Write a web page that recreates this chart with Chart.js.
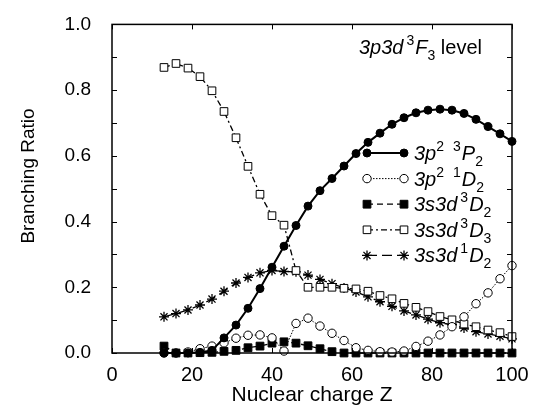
<!DOCTYPE html>
<html>
<head>
<meta charset="utf-8">
<title>Branching ratio 3p3d 3F3</title>
<script src="https://cdn.jsdelivr.net/npm/chart.js@4.4.0/dist/chart.umd.min.js"></script>
<style>
  html, body { margin: 0; padding: 0; background: #fff; }
</style>
</head>
<body>
<canvas id="chart" width="540" height="411"></canvas>
<script>
// nuclear charge Z of each computed point
const zValues = [13, 16, 19, 22, 25, 28, 31, 34, 37, 40, 43, 46, 49, 52, 55, 58, 61, 64, 67, 70, 73, 76, 79, 82, 85, 88, 91, 94, 97, 100];

// branching ratios
const p2_3P2 = [0.0, 0.0, 0.0, 0.002, 0.008, 0.046, 0.085, 0.136, 0.196, 0.261, 0.325, 0.388, 0.447, 0.494, 0.531, 0.569, 0.607, 0.641, 0.669, 0.696, 0.716, 0.731, 0.739, 0.742, 0.739, 0.729, 0.711, 0.689, 0.667, 0.644];
const p2_1D2 = [0.0, 0.0, 0.003, 0.013, 0.021, 0.031, 0.045, 0.054, 0.055, 0.046, 0.006, 0.090, 0.106, 0.082, 0.060, 0.038, 0.016, 0.008, 0.004, 0.003, 0.006, 0.020, 0.036, 0.055, 0.080, 0.110, 0.150, 0.183, 0.226, 0.266];
const sd_3D2 = [0.021, 0.0, 0.0, 0.001, 0.002, 0.005, 0.008, 0.016, 0.021, 0.030, 0.034, 0.030, 0.022, 0.013, 0.004, 0.0, 0.0, 0.0, 0.0, 0.0, 0.0, 0.0, 0.0, 0.0, 0.0, 0.0, 0.0, 0.0, 0.0, 0.0];
const sd_3D3 = [0.869, 0.881, 0.867, 0.841, 0.798, 0.735, 0.655, 0.568, 0.483, 0.418, 0.389, 0.251, 0.200, 0.200, 0.200, 0.197, 0.195, 0.188, 0.175, 0.165, 0.151, 0.139, 0.126, 0.111, 0.101, 0.088, 0.080, 0.070, 0.062, 0.050];
const sd_1D2 = [0.110, 0.120, 0.131, 0.146, 0.164, 0.188, 0.213, 0.230, 0.244, 0.251, 0.248, 0.247, 0.237, 0.224, 0.211, 0.198, 0.186, 0.171, 0.156, 0.142, 0.128, 0.116, 0.103, 0.092, 0.086, 0.076, 0.065, 0.058, 0.051, 0.043];

// legend labels, as rich text pieces: [text, style]  (i = italic, sup, sub, n = normal, gap = blank space in px)
const legendLabels = [
  [["3p", "i"], ["2", "sup"], ["8", "gap"], ["3", "sup"], ["P", "i"], ["2", "sub"]],
  [["3p", "i"], ["2", "sup"], ["8", "gap"], ["1", "sup"], ["D", "i"], ["2", "sub"]],
  [["3s3d", "i"], ["3", "gap"], ["3", "sup"], ["D", "i"], ["2", "sub"]],
  [["3s3d", "i"], ["3", "gap"], ["3", "sup"], ["D", "i"], ["3", "sub"]],
  [["3s3d", "i"], ["3", "gap"], ["1", "sup"], ["D", "i"], ["2", "sub"]]
];
const levelLabel = [["3p3d", "i"], ["3", "gap"], ["3", "sup"], ["F", "i"], ["3", "sub"], [" level", "n"]];

const FONT = "'Liberation Sans', Arial, Helvetica, sans-serif";

function pts(ys) {
  return zValues.map((z, i) => ({ x: z, y: ys[i] }));
}

const styles = [
  { data: p2_3P2, pointStyle: "circle", radius: 4, fill: "#000", dash: [], width: 2 },
  { data: p2_1D2, pointStyle: "circle", radius: 4.2, fill: "#fff", dash: [1.5, 1.5], width: 1 },
  { data: sd_3D2, pointStyle: "rect", radius: 5.5, fill: "#000", dash: [6, 4], width: 1.3 },
  { data: sd_3D3, pointStyle: "rect", radius: 5.4, fill: "#fff", dash: [6, 3, 2, 3], width: 1.3 },
  { data: sd_1D2, pointStyle: "star", radius: 5, fill: "#000", dash: [10, 5], width: 1.3 }
];

const datasets = styles.map((s) => ({
  data: pts(s.data),
  borderColor: "#000",
  borderWidth: s.width,
  borderDash: s.dash,
  pointStyle: s.pointStyle,
  pointRadius: s.radius,
  pointBackgroundColor: s.fill,
  pointBorderColor: "#000",
  pointBorderWidth: s.pointStyle === "star" ? 1.3 : 1,
  tension: 0,
  clip: false
}));

function setFont(ctx, style, size) {
  const small = Math.round(size * 0.68);
  if (style === "i") ctx.font = "italic " + size + "px " + FONT;
  else if (style === "sup" || style === "sub") ctx.font = small + "px " + FONT;
  else ctx.font = size + "px " + FONT;
}

function drawRich(ctx, parts, x, y, size) {
  parts.forEach(([t, st]) => {
    if (st === "gap") { x += Number(t); return; }
    setFont(ctx, st, size);
    let dy = 0;
    if (st === "sup") dy = -size * 0.45;
    if (st === "sub") dy = size * 0.3;
    ctx.fillText(t, x, y + dy);
    x += ctx.measureText(t).width + (st === "sup" ? 1 : 0);
  });
}

function drawMarker(ctx, s, x, y) {
  ctx.save();
  ctx.lineWidth = 1;
  ctx.strokeStyle = "#000";
  ctx.fillStyle = s.fill;
  ctx.beginPath();
  if (s.pointStyle === "circle") {
    ctx.arc(x, y, s.radius, 0, Math.PI * 2);
    ctx.fill();
    ctx.stroke();
  } else if (s.pointStyle === "rect") {
    const h = s.radius * Math.SQRT1_2;
    ctx.rect(x - h, y - h, 2 * h, 2 * h);
    ctx.fill();
    ctx.stroke();
  } else {
    ctx.lineWidth = 1.3;
    for (let k = 0; k < 4; k++) {
      const a = k * Math.PI / 4;
      ctx.moveTo(x - Math.cos(a) * s.radius, y - Math.sin(a) * s.radius);
      ctx.lineTo(x + Math.cos(a) * s.radius, y + Math.sin(a) * s.radius);
    }
    ctx.stroke();
  }
  ctx.restore();
}

// frame with inward ticks, y title, legend and level label
const decorPlugin = {
  id: "decor",
  afterDatasetsDraw(chart) {
    const { ctx, chartArea: a, scales } = chart;
    ctx.save();
    ctx.strokeStyle = "#000";
    ctx.lineWidth = 1.5;
    ctx.strokeRect(a.left, a.top, a.right - a.left, a.bottom - a.top);
    ctx.lineWidth = 1;
    ctx.beginPath();
    scales.x.ticks.forEach((t) => {
      const px = Math.round(scales.x.getPixelForValue(t.value)) + 0.5;
      ctx.moveTo(px, a.bottom); ctx.lineTo(px, a.bottom - 5);
      ctx.moveTo(px, a.top); ctx.lineTo(px, a.top + 5);
    });
    scales.y.ticks.forEach((t) => {
      const py = Math.round(scales.y.getPixelForValue(t.value)) + 0.5;
      ctx.moveTo(a.left, py); ctx.lineTo(a.left + 5, py);
      ctx.moveTo(a.right, py); ctx.lineTo(a.right - 5, py);
    });
    ctx.stroke();

    ctx.fillStyle = "#000";

    // y axis title
    ctx.save();
    ctx.translate(29, 176);
    ctx.rotate(-Math.PI / 2);
    ctx.font = "19px " + FONT;
    ctx.textAlign = "center";
    ctx.textBaseline = "middle";
    ctx.fillText("Branching Ratio", 0, 0);
    ctx.restore();

    // legend
    ctx.textBaseline = "alphabetic";
    const x1 = 367, x2 = 404, textX = 414;
    styles.forEach((s, i) => {
      const y = 153 + i * 25.6;
      ctx.save();
      ctx.lineWidth = s.width;
      ctx.setLineDash(s.dash);
      ctx.beginPath();
      ctx.moveTo(x1, y); ctx.lineTo(x2, y);
      ctx.stroke();
      ctx.restore();
      drawMarker(ctx, s, x1, y);
      drawMarker(ctx, s, x2, y);
      drawRich(ctx, legendLabels[i], textX, y + 7, 20);
    });

    // level label
    drawRich(ctx, levelLabel, 359, 54, 20);
    ctx.restore();
  }
};

Chart.defaults.color = "#000";
Chart.defaults.font.family = FONT;

new Chart(document.getElementById("chart"), {
  type: "line",
  data: { datasets: datasets },
  options: {
    responsive: false,
    animation: false,
    devicePixelRatio: 1,
    layout: { padding: { left: 0, right: 28, top: 19, bottom: 0 } },
    plugins: { legend: { display: false }, tooltip: { enabled: false } },
    scales: {
      x: {
        type: "linear",
        min: 0,
        max: 100,
        ticks: { stepSize: 20, padding: 2, font: { size: 20 } },
        grid: { display: false },
        border: { display: false },
        title: { display: true, text: "Nuclear charge Z", font: { size: 21 }, padding: { top: 0, bottom: 3 } },
        afterFit(scale) { scale.height = 58; }
      },
      y: {
        min: 0,
        max: 1,
        ticks: {
          stepSize: 0.1,
          padding: 13,
          font: { size: 19 },
          callback: (v) => (Math.round(v * 10) % 2 === 0 ? v.toFixed(1) : "")
        },
        grid: { display: false },
        border: { display: false },
        afterFit(scale) { scale.width = 112; }
      }
    }
  },
  plugins: [decorPlugin]
});
</script>
</body>
</html>
